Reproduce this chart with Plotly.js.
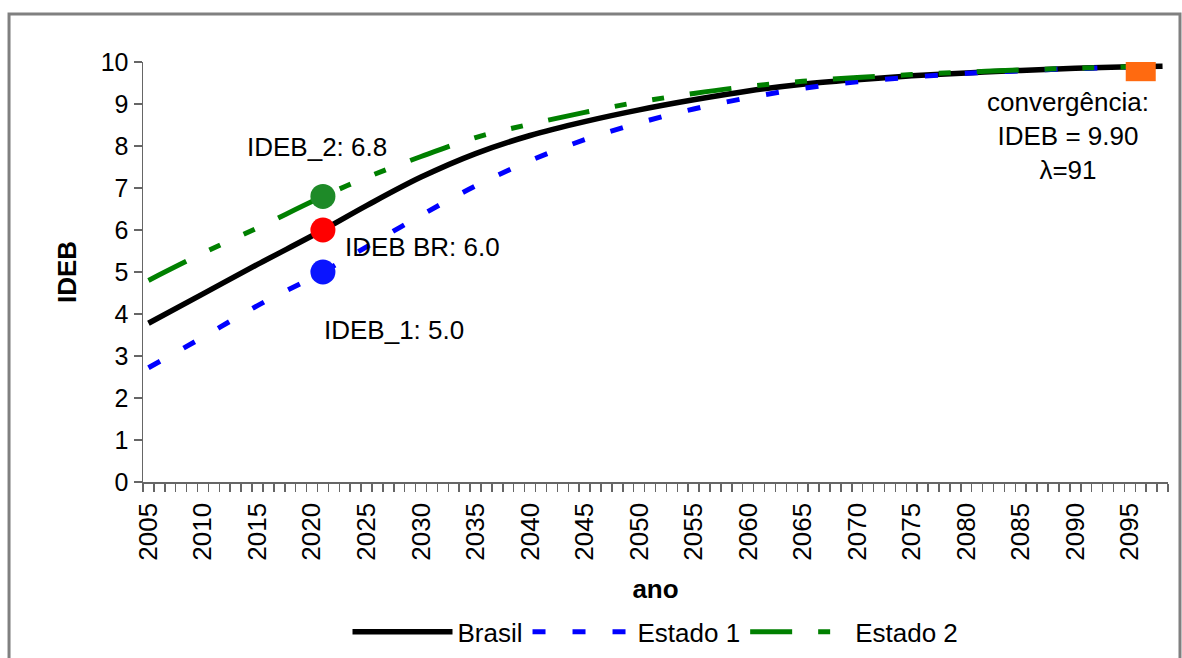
<!DOCTYPE html>
<html>
<head>
<meta charset="utf-8">
<script src="https://cdn.plot.ly/plotly-3.0.1.min.js"></script>
<style>
html,body{margin:0;padding:0;background:#fff;}
#chart{width:1182px;height:658px;}
</style>
</head>
<body>
<div id="chart"></div>
<script>
// ---- data ----
var yearsBrasil = [2005, 2010, 2015, 2021, 2025, 2030, 2035, 2040, 2045, 2050, 2055, 2060, 2065, 2070, 2075, 2080, 2085, 2090, 2096, 2098];
var ideBrasil   = [3.78, 4.48, 5.18, 6.0, 6.58, 7.26, 7.82, 8.25, 8.58, 8.86, 9.1, 9.31, 9.47, 9.58, 9.67, 9.74, 9.8, 9.85, 9.89, 9.9];

var yearsEstado = [2005, 2010, 2015, 2021, 2025, 2030, 2035, 2040, 2045, 2050, 2055, 2060, 2065, 2070, 2075, 2080, 2085, 2090, 2096];
var ideEstado1  = [2.72, 3.45, 4.2, 5.0, 5.6, 6.35, 7.05, 7.65, 8.15, 8.55, 8.88, 9.15, 9.37, 9.53, 9.64, 9.73, 9.79, 9.84, 9.88];
var ideEstado2  = [4.8, 5.45, 6.05, 6.8, 7.25, 7.75, 8.2, 8.52, 8.8, 9.05, 9.25, 9.42, 9.54, 9.63, 9.7, 9.76, 9.81, 9.85, 9.89];

var pointYear = 2021;
var pointBR = 6.0, point1 = 5.0, point2 = 6.8;
var convYear = 2096, convValue = 9.90, lambda = 91;

var tickYears = [2005, 2010, 2015, 2020, 2025, 2030, 2035, 2040, 2045, 2050, 2055, 2060, 2065, 2070, 2075, 2080, 2085, 2090, 2095];
var tickLabels = tickYears.map(String);
var yTicks = [0,1,2,3,4,5,6,7,8,9,10];

var FONT = 'Liberation Sans, Arial, sans-serif';

var traces = [
  {x: yearsBrasil, y: ideBrasil, name: 'Brasil', mode: 'lines', line: {color: '#000000', width: 5.5, shape: 'spline', smoothing: 1}},
  {x: yearsEstado, y: ideEstado1, name: 'Estado 1', mode: 'lines', line: {color: '#0000ff', width: 5, dash: '13px,27px', shape: 'spline', smoothing: 1}},
  {x: yearsEstado, y: ideEstado2, name: 'Estado 2', mode: 'lines', line: {color: '#008000', width: 5, dash: '42px,26px,12px,26px,12px,26px', shape: 'spline', smoothing: 1}},
  {x: [pointYear], y: [point2], mode: 'markers', showlegend: false, marker: {color: '#1e8a28', size: 25, symbol: 'circle'}},
  {x: [pointYear], y: [pointBR], mode: 'markers', showlegend: false, marker: {color: '#ff0000', size: 25, symbol: 'circle'}},
  {x: [pointYear], y: [point1], mode: 'markers', showlegend: false, marker: {color: '#0a14ff', size: 25, symbol: 'circle'}},
  {x: [convYear], y: [convValue], mode: 'markers', showlegend: false, marker: {color: '#ff6a10', size: 30, symbol: 'square'}}
];

var layout = {
  width: 1182, height: 658,
  margin: {l: 143, r: 14, t: 62, b: 176, autoexpand: false},
  paper_bgcolor: '#ffffff', plot_bgcolor: '#ffffff',
  font: {family: FONT, size: 25, color: '#000'},
  showlegend: true,
  legend: {orientation: 'h', x: 0.5, xanchor: 'center', y: -0.357, yanchor: 'middle',
           font: {family: FONT, size: 26, color: '#000'}, itemwidth: 100, tracegroupgap: 0},
  xaxis: {
    automargin: false,
    range: [2004.5, 2098.5], showgrid: false, zeroline: false,
    showline: true, linecolor: '#666', linewidth: 1.5,
    tickmode: 'array', tickvals: tickYears, ticktext: tickLabels,
    tickangle: -90, ticks: '', ticklabelstandoff: 9,
    tickfont: {family: FONT, size: 26, color: '#000'},
    minor: {tick0: 2004.5, dtick: 1, ticks: 'outside', ticklen: 8, tickcolor: '#666', tickwidth: 1.5, showgrid: false},
    title: {text: '<b>ano</b>', font: {family: FONT, size: 26, color: '#000'}, standoff: 20}
  },
  yaxis: {
    automargin: false,
    range: [0, 10], showgrid: false, zeroline: false,
    showline: true, linecolor: '#666', linewidth: 1.5,
    tickmode: 'array', tickvals: yTicks, ticktext: yTicks.map(String),
    ticks: 'outside', ticklen: 8, tickcolor: '#666', tickwidth: 1.5,
    tickfont: {family: FONT, size: 25, color: '#000'},
    title: {text: '<b>IDEB</b>', font: {family: FONT, size: 26, color: '#000'}, standoff: 16}
  },
  annotations: [
    {x: 2020.5, y: 7.98, text: 'IDEB_2: ' + point2.toFixed(1), showarrow: false, xanchor: 'center', yanchor: 'middle', font: {family: FONT, size: 26, color: '#000'}},
    {x: 2022.8, y: 5.6, text: 'IDEB BR: ' + pointBR.toFixed(1), showarrow: false, xanchor: 'left', yanchor: 'middle', font: {family: FONT, size: 26, color: '#000'}},
    {x: 2020.9, y: 3.62, text: 'IDEB_1: ' + point1.toFixed(1), showarrow: false, xanchor: 'left', yanchor: 'middle', font: {family: FONT, size: 26, color: '#000'}},
    {x: 2089.3, y: 8.25, text: 'convergência:<br>IDEB = ' + convValue.toFixed(2) + '<br>λ=' + lambda, showarrow: false, xanchor: 'center', yanchor: 'middle', align: 'center', font: {family: FONT, size: 26, color: '#000'}}
  ],
  shapes: [
    {type: 'rect', xref: 'paper', yref: 'paper', x0: -0.1307, x1: 1.0117, y0: -0.52, y1: 1.1143,
     line: {color: '#808080', width: 3}, fillcolor: 'rgba(0,0,0,0)', layer: 'below'}
  ]
};

Plotly.newPlot('chart', traces, layout, {displayModeBar: false, staticPlot: true});
</script>
</body>
</html>
